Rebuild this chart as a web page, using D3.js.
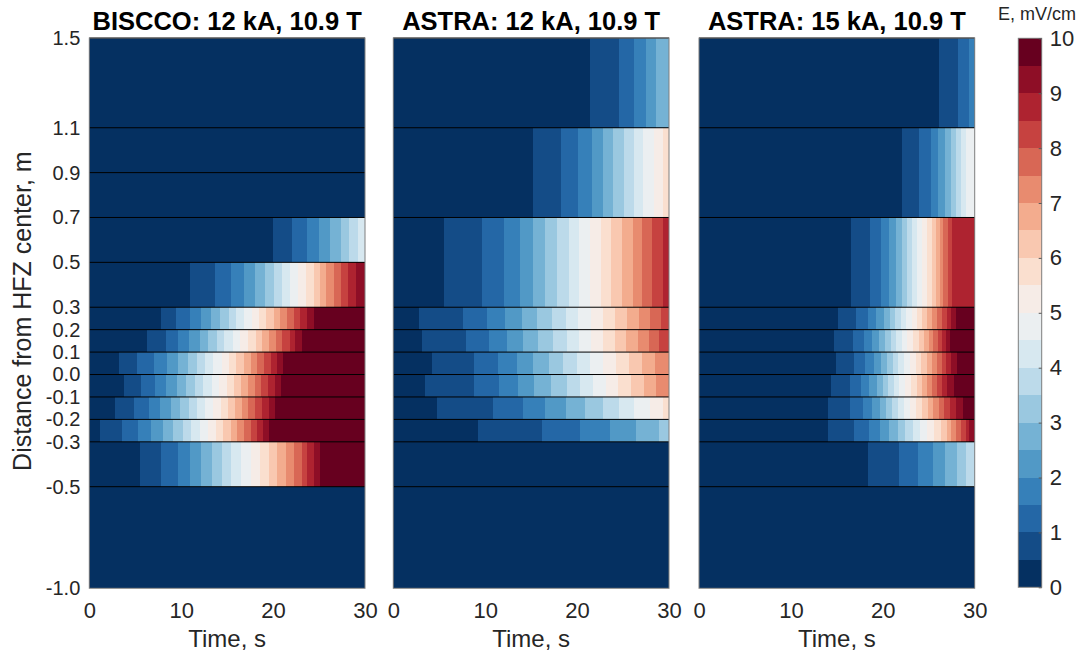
<!DOCTYPE html>
<html>
<head>
<meta charset="utf-8">
<script src="https://cdn.jsdelivr.net/npm/d3@7/dist/d3.min.js"></script>
<style>
  body { margin: 0; background: #ffffff; }
  svg { display: block; font-family: "Liberation Sans", Arial, Helvetica, sans-serif; }
</style>
</head>
<body>
<svg id="chart" width="1080" height="657"></svg>
<script>
// ---- data -------------------------------------------------------------
const panelTitles = ["BISCCO: 12 kA, 10.9 T", "ASTRA: 12 kA, 10.9 T", "ASTRA: 15 kA, 10.9 T"];
const timeTicks = [0, 10, 20, 30];
const distanceTicks = [1.5, 1.1, 0.9, 0.7, 0.5, 0.3, 0.2, 0.1, 0.0, -0.1, -0.2, -0.3, -0.5, -1.0];
const colorbarTicks = [0, 1, 2, 3, 4, 5, 6, 7, 8, 9, 10];
const levelStep = 0.5;      // mV/cm per colour level
const levelCount = 20;      // 0 ... 10 mV/cm

// Row edges (m) of the voltage-tap segments
const rowEdgesBiscco = [1.5, 1.1, 0.9, 0.7, 0.5, 0.3, 0.2, 0.1, 0.0, -0.1, -0.2, -0.3, -0.5, -1.0];
const rowEdgesAstra  = [1.5, 1.1, 0.7, 0.3, 0.2, 0.1, 0.0, -0.1, -0.2, -0.3, -0.5, -1.0];

// For each segment (top to bottom): time (s) at which E first reaches
// 0.5, 1.0, 1.5, ... mV/cm
const onsetsBiscco = [
  [],
  [],
  [],
  [20.0, 22.05, 23.65, 24.95, 26.2, 27.35, 28.3, 29.2],
  [11.0, 13.65, 15.4, 16.8, 18.05, 19.1, 20.1, 21.0, 21.8, 22.7, 23.6, 24.4, 25.1, 25.8, 26.6, 27.35, 28.2, 29.0],
  [7.8, 9.45, 11.0, 12.2, 13.25, 14.2, 15.15, 16.0, 16.85, 17.65, 18.5, 19.25, 20.05, 20.8, 21.5, 22.25, 22.9, 23.65, 24.5],
  [6.3, 8.35, 9.7, 10.9, 12.0, 12.9, 13.85, 14.7, 15.6, 16.4, 17.3, 18.1, 18.8, 19.6, 20.3, 21.0, 21.8, 22.4, 23.1],
  [3.25, 5.2, 7.0, 8.45, 9.65, 10.7, 11.75, 12.6, 13.5, 14.4, 15.2, 16.0, 16.8, 17.55, 18.3, 19.0, 19.8, 20.45, 21.1],
  [3.8, 5.65, 7.1, 8.35, 9.5, 10.5, 11.5, 12.4, 13.3, 14.15, 14.95, 15.75, 16.55, 17.3, 18.0, 18.7, 19.45, 20.2, 20.85],
  [2.8, 4.9, 6.45, 7.7, 8.85, 9.85, 10.8, 11.75, 12.6, 13.5, 14.3, 15.1, 15.9, 16.6, 17.3, 18.05, 18.8, 19.5, 20.2],
  [1.15, 3.55, 5.3, 6.75, 8.05, 9.15, 10.15, 11.1, 12.0, 12.9, 13.8, 14.6, 15.4, 16.1, 16.8, 17.55, 18.3, 18.9, 19.6],
  [5.5, 7.85, 9.6, 10.95, 12.2, 13.4, 14.4, 15.45, 16.5, 17.6, 18.6, 19.5, 20.45, 21.4, 22.3, 23.1, 23.7, 24.4, 25.1],
  []
];

const onsetsAstra12 = [
  [21.45, 24.6, 26.2, 27.5, 28.6],
  [15.15, 18.2, 20.1, 21.65, 22.8, 23.9, 25.05, 26.15, 27.2, 28.35, 29.4],
  [5.5, 9.65, 12.0, 13.8, 15.2, 16.5, 17.85, 19.1, 20.25, 21.45, 22.55, 23.7, 24.9, 26.05, 27.1, 28.2, 29.3],
  [2.83, 7.6, 10.15, 12.2, 14.0, 15.65, 17.25, 18.8, 20.15, 21.5, 22.8, 24.1, 25.4, 26.7, 27.9, 29.1],
  [3.1, 7.9, 10.45, 12.4, 14.1, 15.75, 17.35, 18.85, 20.2, 21.5, 22.8, 24.1, 25.35, 26.65, 27.85, 28.9],
  [4.25, 8.8, 11.4, 13.45, 15.2, 16.9, 18.5, 19.95, 21.4, 22.8, 24.25, 25.6, 27.1, 28.5],
  [3.5, 8.8, 11.45, 13.55, 15.35, 17.15, 18.85, 20.3, 21.75, 23.1, 24.5, 25.9, 27.25, 28.6],
  [4.78, 10.87, 14.08, 16.55, 18.8, 20.87, 22.8, 24.6, 26.2, 27.9, 29.3],
  [9.22, 16.2, 20.3, 23.6, 26.45, 28.9],
  [],
  []
];

const onsetsAstra15 = [
  [26.1, 28.2, 29.4],
  [22.1, 23.95, 25.2, 26.05, 26.8, 27.4, 27.95, 28.55, 29.1],
  [16.5, 18.6, 19.8, 20.65, 21.4, 22.05, 22.6, 23.15, 23.75, 24.3, 24.85, 25.3, 25.75, 26.2, 26.6, 27.05, 27.55],
  [15.1, 17.1, 18.35, 19.3, 20.1, 20.75, 21.35, 21.95, 22.55, 23.15, 23.75, 24.3, 24.85, 25.4, 25.9, 26.4, 26.95, 27.45, 28.0],
  [14.73, 16.8, 17.95, 18.85, 19.6, 20.25, 20.85, 21.45, 22.05, 22.65, 23.3, 23.9, 24.45, 25.0, 25.5, 26.0, 26.45, 26.9, 27.35],
  [14.87, 16.9, 18.1, 19.05, 19.85, 20.5, 21.1, 21.7, 22.3, 22.95, 23.6, 24.2, 24.8, 25.35, 25.9, 26.4, 26.9, 27.45, 28.05],
  [14.35, 16.4, 17.6, 18.55, 19.35, 20.0, 20.6, 21.2, 21.8, 22.45, 23.1, 23.7, 24.3, 24.85, 25.4, 25.9, 26.4, 27.0, 27.8],
  [14.07, 16.45, 17.8, 18.8, 19.65, 20.35, 21.0, 21.65, 22.3, 22.95, 23.6, 24.25, 24.9, 25.5, 26.1, 26.7, 27.3, 28.0, 28.75],
  [14.0, 16.87, 18.46, 19.7, 20.7, 21.6, 22.45, 23.25, 24.05, 24.85, 25.57, 26.3, 26.95, 27.45, 27.96, 28.5, 29.0, 29.35],
  [18.35, 21.78, 23.78, 25.43, 26.82, 28.08, 29.02],
  []
];

const panels = [
  { title: panelTitles[0], edges: rowEdgesBiscco, onsets: onsetsBiscco },
  { title: panelTitles[1], edges: rowEdgesAstra,  onsets: onsetsAstra12 },
  { title: panelTitles[2], edges: rowEdgesAstra,  onsets: onsetsAstra15 }
];

// ---- layout -----------------------------------------------------------
const svg = d3.select("#chart");
const panelLeft = [89.3, 393.3, 699.0];
const panelWidth = 275.7;
const plotTop = 38, plotBottom = 588.3;
const tickColor = "#262626";

const x = d3.scaleLinear().domain([0, 30]).range([0, panelWidth]);
// segment below -0.5 m is drawn compressed
const y = d3.scaleLinear().domain([1.5, -0.5, -1.0]).range([plotTop, 486.7, plotBottom]);

// 20-level diverging map, dark blue (0) to dark red (10)
const levelColors = d3.range(levelCount).map(i => d3.interpolateRdBu(1 - i / (levelCount - 1)));
const color = d3.scaleThreshold()
  .domain(d3.range(1, levelCount).map(i => i * levelStep))
  .range(levelColors);

// plain hyphen-minus for negative tick labels
const fmtDistance = d => d3.format(".1f")(d).replace("\u2212", "-");

function bandsOf(onsets) {
  const bands = [{ level: 0, t0: 0, t1: onsets.length ? onsets[0] : 30 }];
  onsets.forEach((t, k) => {
    bands.push({ level: k + 1, t0: t, t1: k + 1 < onsets.length ? onsets[k + 1] : 30 });
  });
  return bands;
}

panels.forEach((p, pi) => {
  const g = svg.append("g").attr("transform", `translate(${panelLeft[pi]},0)`);

  const rows = p.onsets.map((on, r) => ({ top: p.edges[r], bottom: p.edges[r + 1], bands: bandsOf(on) }));

  const rowG = g.selectAll("g.row").data(rows).join("g").attr("class", "row");
  rowG.selectAll("rect")
    .data(d => d.bands.map(b => ({ ...b, top: d.top, bottom: d.bottom })))
    .join("rect")
    .attr("x", d => x(d.t0))
    .attr("width", d => x(d.t1) - x(d.t0))
    .attr("y", d => y(d.top))
    .attr("height", d => y(d.bottom) - y(d.top))
    .attr("fill", d => color(d.level * levelStep))
    .attr("shape-rendering", "crispEdges");

  // segment separators
  g.selectAll("line.sep").data(p.edges.slice(0, -1)).join("line")
    .attr("class", "sep")
    .attr("x1", 0).attr("x2", panelWidth)
    .attr("y1", d => y(d)).attr("y2", d => y(d))
    .attr("stroke", "#000").attr("stroke-width", 1);

  // frame
  g.append("rect")
    .attr("x", 0).attr("y", plotTop)
    .attr("width", panelWidth).attr("height", plotBottom - plotTop)
    .attr("fill", "none").attr("stroke", "#7f7f7f").attr("stroke-width", 1);

  // time axis
  const xAxis = d3.axisBottom(x).tickValues(timeTicks).tickSize(0).tickPadding(0).tickFormat(d3.format("d"));
  const xa = g.append("g").attr("transform", `translate(0,${plotBottom})`).call(xAxis);
  xa.select(".domain").remove();
  xa.selectAll("text").attr("y", 30).attr("dy", null)
    .attr("fill", tickColor).style("font-size", "22px");

  g.append("text")
    .attr("x", panelWidth / 2).attr("y", 647)
    .attr("text-anchor", "middle").attr("fill", tickColor)
    .style("font-size", "24px").text("Time, s");

  g.append("text")
    .attr("x", panelWidth / 2).attr("y", 30)
    .attr("text-anchor", "middle").attr("fill", "#000")
    .style("font-size", "25.5px").style("font-weight", "bold").text(p.title);
});

// distance axis (left panel only)
const yAxis = d3.axisLeft(y).tickValues(distanceTicks).tickSize(0).tickPadding(9).tickFormat(fmtDistance);
const ya = svg.append("g").attr("transform", `translate(${panelLeft[0]},0)`).call(yAxis);
ya.select(".domain").remove();
ya.selectAll("text").attr("fill", tickColor).style("font-size", "20px");

svg.append("text")
  .attr("transform", `translate(31,${(plotTop + plotBottom) / 2 - 2}) rotate(-90)`)
  .attr("text-anchor", "middle").attr("fill", tickColor)
  .style("font-size", "25px").text("Distance from HFZ center, m");

// ---- colour bar -------------------------------------------------------
const cbX = 1018.3, cbW = 23.4;
const cbScale = d3.scaleLinear().domain([0, 10]).range([587.3, 38.3]);
const cb = svg.append("g");
cb.selectAll("rect.lvl").data(d3.range(levelCount)).join("rect")
  .attr("class", "lvl")
  .attr("x", cbX).attr("width", cbW)
  .attr("y", i => cbScale((i + 1) * levelStep))
  .attr("height", i => cbScale(i * levelStep) - cbScale((i + 1) * levelStep))
  .attr("fill", i => color(i * levelStep))
  .attr("shape-rendering", "crispEdges");
cb.append("rect")
  .attr("x", cbX).attr("y", cbScale(10))
  .attr("width", cbW).attr("height", cbScale(0) - cbScale(10))
  .attr("fill", "none").attr("stroke", "#7f7f7f").attr("stroke-width", 1);

const cbAxis = d3.axisRight(cbScale).tickValues(colorbarTicks).tickSize(-3).tickPadding(8).tickFormat(d3.format("d"));
const cba = svg.append("g").attr("transform", `translate(${cbX + cbW},0)`).call(cbAxis);
cba.select(".domain").remove();
cba.selectAll("line").attr("stroke", "#5a5a5a");
cba.selectAll("text").attr("fill", tickColor).style("font-size", "22px");

svg.append("text")
  .attr("x", 1037).attr("y", 20)
  .attr("text-anchor", "middle").attr("fill", tickColor)
  .style("font-size", "18px").text("E, mV/cm");
</script>
</body>
</html>
